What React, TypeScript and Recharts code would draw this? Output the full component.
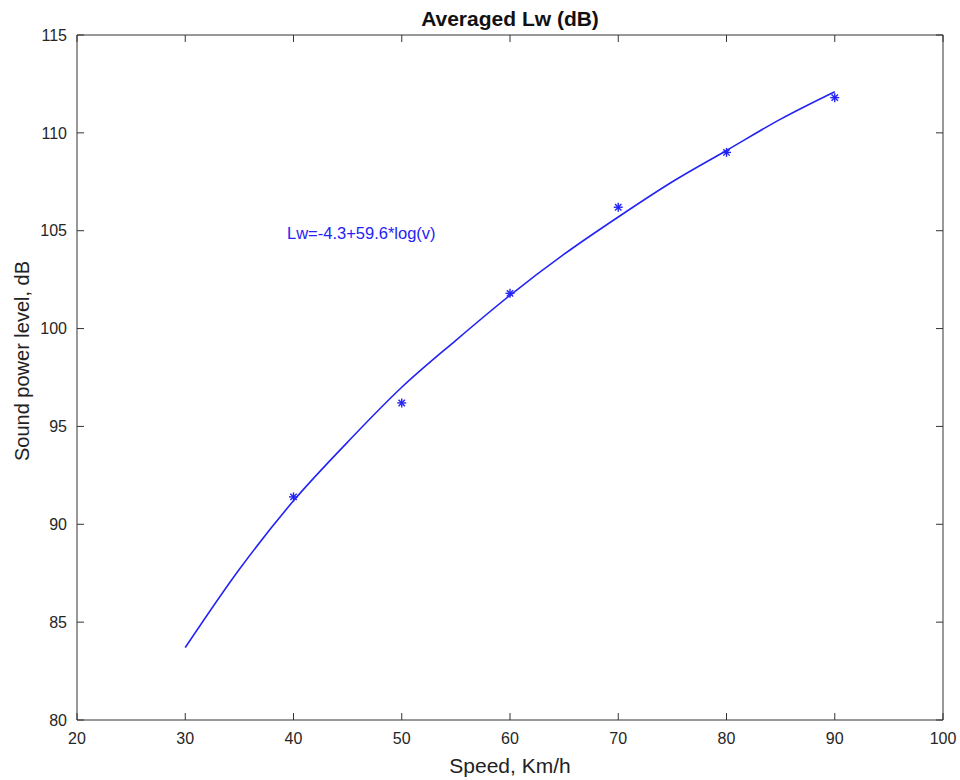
import React from "react"
import {
  ComposedChart,
  Line,
  Scatter,
  XAxis,
  YAxis,
  ReferenceDot,
  Customized,
} from "recharts"

// measured averaged Lw at each speed
const speeds = [40, 50, 60, 70, 80, 90]
const lwMeasured = [91.4, 96.2, 101.8, 106.2, 109.0, 111.8]

// fitted curve
const fitSpeeds = [30, 35, 40, 45, 50, 55, 60, 65, 70, 75, 80, 85, 90]
const fitLw = [83.7, 87.7, 91.2, 94.2, 97.0, 99.4, 101.7, 103.8, 105.7, 107.5, 109.1, 110.7, 112.1]

const xTicks = [20, 30, 40, 50, 60, 70, 80, 90, 100]
const yTicks = [80, 85, 90, 95, 100, 105, 110, 115]

const fitLabel = "Lw=-4.3+59.6*log(v)"
const title = "Averaged Lw (dB)"
const xLabel = "Speed, Km/h"
const yLabel = "Sound power level, dB"

const measured = speeds.map((v, i) => ({ v, lw: lwMeasured[i] }))
const fit = fitSpeeds.map((v, i) => ({ v, lw: fitLw[i] }))

const BLUE = "#2323f5"
const AXIS = "#333333"
const FONT = "'Liberation Sans', Arial, Helvetica, sans-serif"
const TICK_LEN = 7
const TS = 1 // recharts treats tickSize 0 as default, so use 1

function Star(props: any) {
  const { cx, cy } = props
  const r = 4.5
  const d = 3.2
  return (
    <g stroke={BLUE} strokeWidth={1.4}>
      <line x1={cx - r} y1={cy} x2={cx + r} y2={cy} />
      <line x1={cx} y1={cy - r} x2={cx} y2={cy + r} />
      <line x1={cx - d} y1={cy - d} x2={cx + d} y2={cy + d} />
      <line x1={cx - d} y1={cy + d} x2={cx + d} y2={cy - d} />
    </g>
  )
}

// matlab style ticks: pointing into the plot box
const BOTTOM_GAP = 12
const LEFT_GAP = 9
const EDGE_GAP = 4

function BottomTick(props: any) {
  const { x, y, payload } = props
  const ay = y - BOTTOM_GAP - TS
  return (
    <g>
      <line x1={x} y1={ay} x2={x} y2={ay - TICK_LEN} stroke={AXIS} />
      <text x={x} y={y} dy="0.71em" textAnchor="middle" fontSize={16} fill="#262626" fontFamily={FONT}>
        {payload.value}
      </text>
    </g>
  )
}

function LeftTick(props: any) {
  const { x, y, payload } = props
  const ax = x + LEFT_GAP + TS
  return (
    <g>
      <line x1={ax} y1={y} x2={ax + TICK_LEN} y2={y} stroke={AXIS} />
      <text x={x} y={y} dy="0.36em" textAnchor="end" fontSize={16} fill="#262626" fontFamily={FONT}>
        {payload.value}
      </text>
    </g>
  )
}

function TopTick(props: any) {
  const { x, y } = props
  const ay = y + EDGE_GAP + TS
  return <line x1={x} y1={ay} x2={x} y2={ay + TICK_LEN} stroke={AXIS} />
}

function RightTick(props: any) {
  const { x, y } = props
  const ax = x - EDGE_GAP - TS
  return <line x1={ax} y1={y} x2={ax - TICK_LEN} y2={y} stroke={AXIS} />
}

function Texts() {
  return (
    <g fontFamily={FONT}>
      <text x={510} y={18} textAnchor="middle" dominantBaseline="central" fontSize={21} fontWeight="bold" fill="#111">
        {title}
      </text>
      <text x={510} y={765} textAnchor="middle" dominantBaseline="central" fontSize={21} fill="#222">
        {xLabel}
      </text>
      <text
        x={22}
        y={361}
        textAnchor="middle"
        dominantBaseline="central"
        fontSize={20}
        fill="#222"
        transform="rotate(-90 22 361)"
      >
        {yLabel}
      </text>
    </g>
  )
}

export default function App() {
  return (
    <div style={{ position: "absolute", left: 0, top: 0, background: "#fff" }}>
      <ComposedChart width={960} height={780} margin={{ top: 34, right: 16, bottom: 0, left: 0 }}>
        <XAxis
          xAxisId={0}
          dataKey="v"
          type="number"
          domain={[20, 100]}
          ticks={xTicks}
          height={60}
          tickSize={TS}
          tickMargin={BOTTOM_GAP}
          tickLine={false}
          tick={<BottomTick />}
          stroke={AXIS}
          interval={0}
          allowDataOverflow
        />
        <XAxis
          xAxisId="top"
          orientation="top"
          dataKey="v"
          type="number"
          domain={[20, 100]}
          ticks={xTicks}
          height={1}
          tickSize={TS}
          tickMargin={EDGE_GAP}
          tickLine={false}
          tick={<TopTick />}
          stroke={AXIS}
          interval={0}
          allowDataOverflow
        />
        <YAxis
          yAxisId={0}
          type="number"
          domain={[80, 115]}
          ticks={yTicks}
          width={77}
          tickSize={TS}
          tickMargin={LEFT_GAP}
          tickLine={false}
          tick={<LeftTick />}
          stroke={AXIS}
          interval={0}
          allowDataOverflow
        />
        <YAxis
          yAxisId="right"
          orientation="right"
          type="number"
          domain={[80, 115]}
          ticks={yTicks}
          width={1}
          tickSize={TS}
          tickMargin={EDGE_GAP}
          tickLine={false}
          tick={<RightTick />}
          stroke={AXIS}
          interval={0}
          allowDataOverflow
        />
        <Line
          data={fit}
          dataKey="lw"
          type="monotone"
          stroke={BLUE}
          strokeWidth={1.6}
          dot={false}
          isAnimationActive={false}
        />
        <Scatter
          data={measured}
          dataKey="lw"
          xAxisId="top"
          yAxisId="right"
          shape={<Star />}
          isAnimationActive={false}
        />
        <ReferenceDot
          x={39.4}
          y={104.9}
          r={0}
          shape={(p: any) => (
            <text x={p.cx} y={p.cy} fontSize={16.5} fill={BLUE} fontFamily={FONT} dominantBaseline="central">
              {fitLabel}
            </text>
          )}
        />
        <Customized component={<Texts />} />
      </ComposedChart>
    </div>
  )
}
